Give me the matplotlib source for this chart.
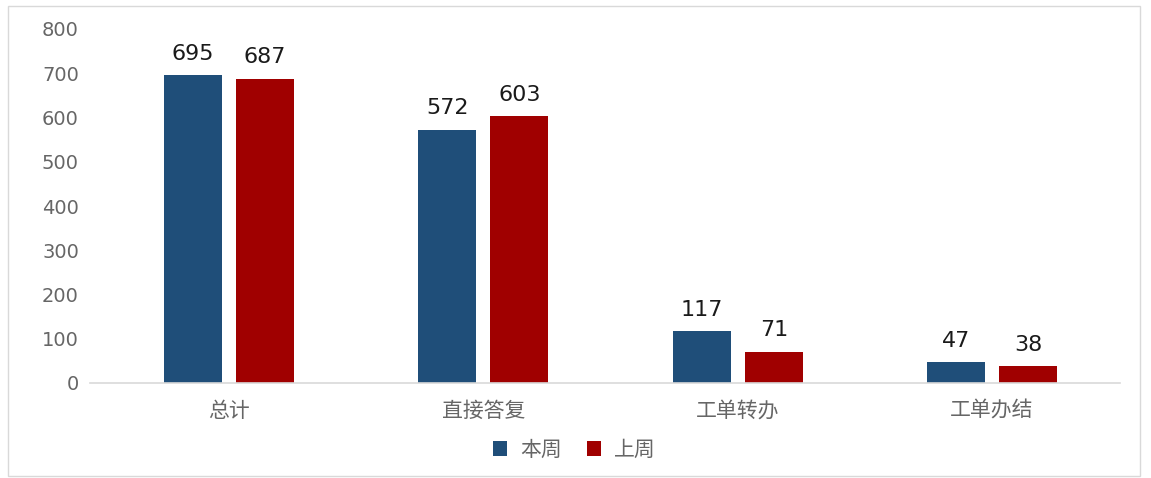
import matplotlib
matplotlib.use("Agg")
import matplotlib.pyplot as plt
from matplotlib.patches import Rectangle
import numpy as np

plt.rcParams['font.family'] = ['Noto Sans CJK SC', 'DejaVu Sans']

categories = ['总计', '直接答复', '工单转办', '工单办结']
this_week = [695, 572, 117, 47]
last_week = [687, 603, 71, 38]
series_names = ['本周', '上周']
yticks = [0, 100, 200, 300, 400, 500, 600, 700, 800]

blue = '#1f4e79'
red = '#a00000'

fig = plt.figure(figsize=(11.51, 4.78), dpi=100)
fig.patches.append(Rectangle((8/1151, 2/478), 1132/1151, 470/478, transform=fig.transFigure,
                             fill=False, edgecolor='#d9d9d9', linewidth=1))
ax = fig.add_axes([90/1151, 1-383/478, (1120-90)/1151, (383-29)/478])

x = np.arange(len(categories))
w = 0.228
off = 0.142
b1 = ax.bar(x - off, this_week, w, color=blue, label=series_names[0])
b2 = ax.bar(x + off, last_week, w, color=red, label=series_names[1])

for bars, vals in ((b1, this_week), (b2, last_week)):
    for r, v in zip(bars, vals):
        ax.text(r.get_x() + r.get_width()/2, v + 26, str(v), ha='center', va='bottom',
                fontsize=16, color='#1a1a1a', family='DejaVu Sans')

ax.set_xlim(-0.546, 3.503)
ax.set_ylim(0, 800)
ax.set_yticks(yticks)
ax.set_yticklabels([str(t) for t in yticks], fontsize=14, color='#666666', family='DejaVu Sans')
ax.set_xticks(x)
ax.set_xticklabels(categories, fontsize=15, color='#666666')
ax.tick_params(axis='both', length=0)
ax.tick_params(axis='y', pad=8)
ax.tick_params(axis='x', pad=12)
for s in ['top', 'right', 'left']:
    ax.spines[s].set_visible(False)
ax.spines['bottom'].set_color('#d9d9d9')
ax.spines['bottom'].set_linewidth(1.2)

leg = fig.legend(handles=[b1, b2], labels=series_names, loc='center', bbox_to_anchor=(574/1151, 1-450/478),
                 ncol=2, frameon=False, fontsize=15, handlelength=0.7, handleheight=0.7,
                 handletextpad=0.6, columnspacing=1.2)
for t in leg.get_texts():
    t.set_color('#666666')

fig.savefig('out.png', dpi=100)
